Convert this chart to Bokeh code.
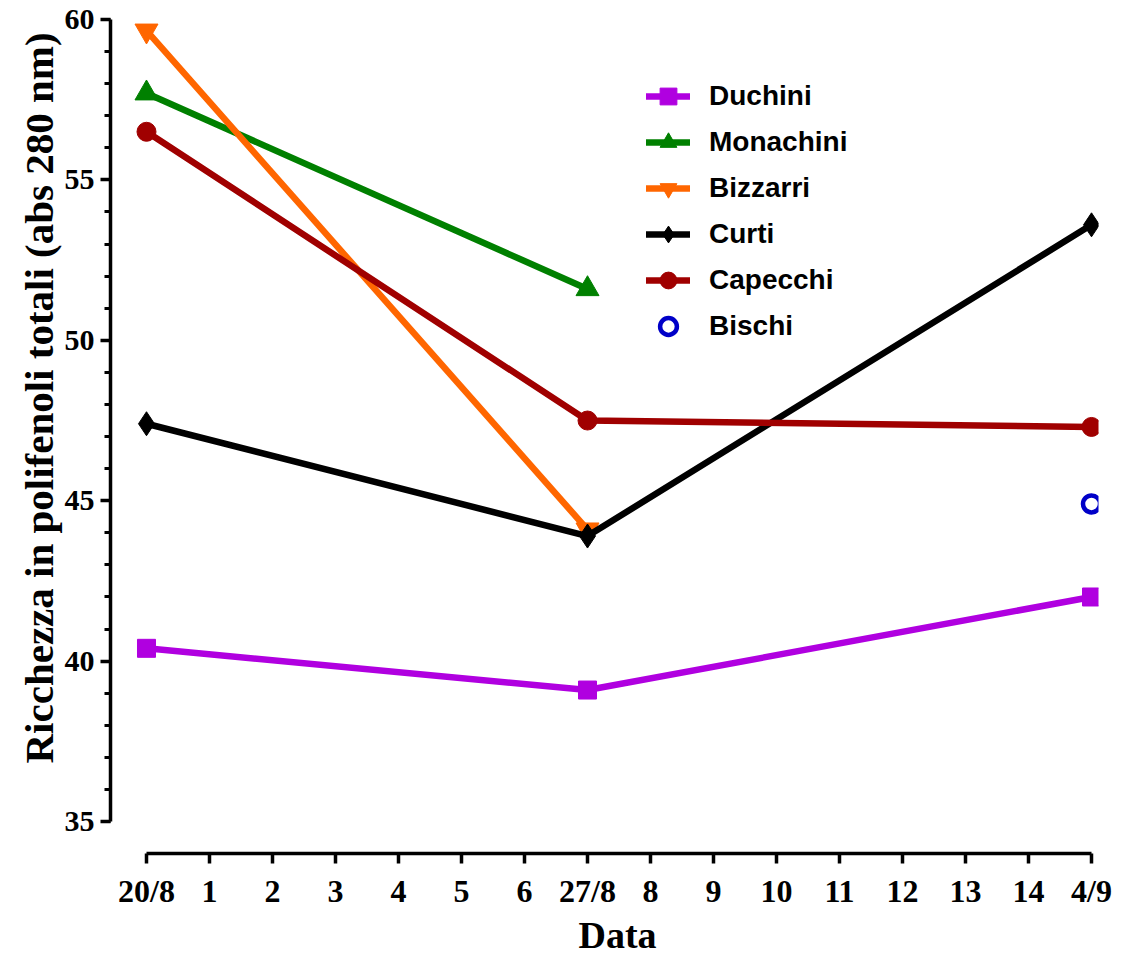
from bokeh.plotting import figure
from bokeh.models import Range1d, FixedTicker, Legend, Title
from bokeh.embed import file_html
from bokeh.resources import INLINE

nan = float("nan")

# Data
x_days = [0, 7, 15]
x_tick_labels = ["20/8", "1", "2", "3", "4", "5", "6", "27/8", "8", "9",
                 "10", "11", "12", "13", "14", "4/9"]
duchini = [40.4, 39.1, 42.0]
monachini = [57.7, 51.6, nan]
bizzarri = [59.65, 44.1, nan]
curti = [47.4, 43.9, 53.6]
capecchi = [56.5, 47.5, 47.3]
bischi = [nan, nan, 44.9]

SERIF = "Liberation Serif"
SANS = "Liberation Sans"

p = figure(width=1139, height=955, output_backend="svg", toolbar_location=None,
           x_range=Range1d(-0.5714, 15.111), y_range=Range1d(34.005, 60.28),
           min_border_left=110, min_border_right=41, min_border_top=10,
           min_border_bottom=100, background_fill_color="white",
           border_fill_color="white")
p.outline_line_color = None
p.grid.grid_line_color = None

# axes
for ax in (p.xaxis[0], p.yaxis[0]):
    ax.axis_line_width = 3.5
    ax.axis_line_color = "black"
    ax.major_tick_line_width = 3.5
    ax.major_tick_line_color = "black"
    ax.major_tick_in = 0
    ax.major_tick_out = 10
    ax.major_label_text_font = SERIF
    ax.major_label_text_font_style = "bold"
    ax.major_label_text_color = "black"

p.xaxis.bounds = (0, 15)
p.xaxis.ticker = FixedTicker(ticks=list(range(len(x_tick_labels))))
p.xaxis.major_label_overrides = {i: t for i, t in enumerate(x_tick_labels)}
p.xaxis.major_label_text_font_size = "32px"
p.xaxis.major_label_standoff = 9
p.xaxis.minor_tick_line_color = None

p.yaxis.bounds = (35, 60)
p.yaxis.ticker = FixedTicker(ticks=[35, 40, 45, 50, 55, 60],
                             minor_ticks=list(range(35, 61)))
p.yaxis.major_label_text_font_size = "30px"
p.yaxis.major_label_standoff = 6
p.yaxis.minor_tick_in = 0
p.yaxis.minor_tick_out = 6
p.yaxis.minor_tick_line_width = 3
p.yaxis.minor_tick_line_color = "black"

series = [
    ("Duchini", duchini, "#B000E0", "square", 18),
    ("Monachini", monachini, "#008000", "triangle", 23),
    ("Bizzarri", bizzarri, "#FF6600", "inverted_triangle", 23),
    ("Curti", curti, "#000000", "diamond", 24),
    ("Capecchi", capecchi, "#A00000", "circle", 19),
]

items = []
for name, ys, col, mk, sz in series:
    l = p.line(x_days, ys, line_color=col, line_width=6.5, line_cap="round")
    s = p.scatter(x_days, ys, marker=mk, size=sz, fill_color=col, line_color=col)
    items.append((name, [l, s]))

b = p.scatter(x_days, bischi, marker="circle", size=17, fill_color="white",
              line_color="#0000C8", line_width=4.5)
items.append(("Bischi", [b]))

legend = Legend(items=items, location=(536, 506), padding=0, margin=0,
                spacing=4, glyph_width=44, glyph_height=42, label_height=42,
                label_standoff=19, label_text_font=SANS,
                label_text_font_style="bold", label_text_font_size="28px",
                label_text_color="black", label_text_baseline="middle",
                border_line_color=None, background_fill_alpha=0)
p.add_layout(legend, "center")

p.add_layout(Title(text="Data", align="left", offset=468, standoff=0,
                   text_font=SERIF, text_font_style="bold",
                   text_font_size="38px", text_color="black"), "below")
p.add_layout(Title(text="Ricchezza in polifenoli totali (abs 280 nm)",
                   align="left", offset=90, standoff=0,
                   text_font=SERIF, text_font_style="bold",
                   text_font_size="41px", text_color="black"), "left")

open("out.html", "w").write(file_html(p, INLINE))
